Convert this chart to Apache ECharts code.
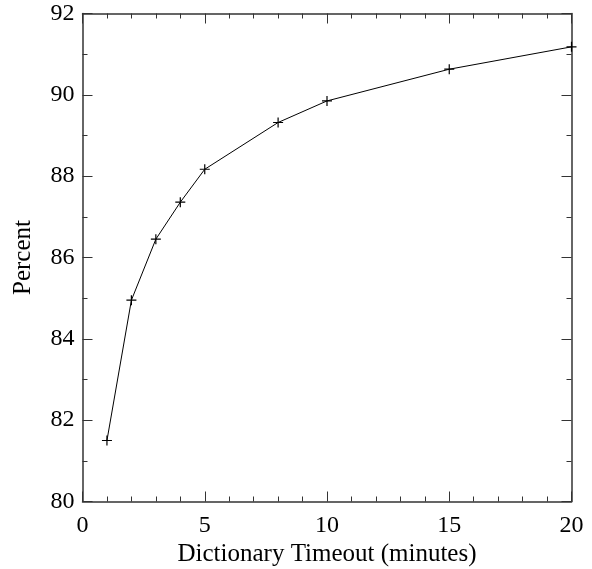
<!DOCTYPE html>
<html><head><meta charset="utf-8">
<script src="https://cdn.jsdelivr.net/npm/echarts@6/dist/echarts.min.js"></script>
<style>html,body{margin:0;padding:0;background:#fff}#c{width:592px;height:569px}</style>
</head><body><div id="c"></div>
<script>
const timeoutMinutes = [1, 2, 3, 4, 5, 8, 10, 15, 20];
const percentValues = [81.5, 84.95, 86.45, 87.36, 88.17, 89.32, 89.85, 90.63, 91.18];
const xTitle = 'Dictionary Timeout (minutes)';
const yTitle = 'Percent';

const font = 'Liberation Serif';
const axisCol = '#333';
function xa(show, pos) {
  return {
    type: 'value', min: 0, max: 20, interval: 5, position: pos,
    name: show ? xTitle : '', nameLocation: 'middle', nameGap: 36.5,
    nameTextStyle: {fontFamily: font, fontSize: 25, color: '#000'},
    axisLine: {show: true, onZero: false, lineStyle: {color: axisCol, width: 1.5}},
    axisTick: {show: true, inside: true, length: 10, lineStyle: {color: axisCol}},
    minorTick: {show: true, splitNumber: 5, length: 5, lineStyle: {color: axisCol}},
    axisLabel: {show: show, fontFamily: font, fontSize: 24, color: '#000', margin: 12},
    splitLine: {show: false}
  };
}
function ya(show, pos) {
  return {
    type: 'value', min: 80, max: 92, interval: 2, position: pos,
    name: show ? yTitle : '', nameLocation: 'middle', nameGap: 47,
    nameTextStyle: {fontFamily: font, fontSize: 25, color: '#000'},
    axisLine: {show: true, onZero: false, lineStyle: {color: axisCol, width: 1.5}},
    axisTick: {show: true, inside: true, length: 10, lineStyle: {color: axisCol}},
    minorTick: {show: true, splitNumber: 2, length: 5, lineStyle: {color: axisCol}},
    axisLabel: {show: show, fontFamily: font, fontSize: 24, color: '#000', margin: 8},
    splitLine: {show: false}
  };
}
const chart = echarts.init(document.getElementById('c'), null, {renderer: 'canvas'});
chart.setOption({
  animation: false,
  backgroundColor: '#fff',
  grid: {left: 82.5, right: 20.5, top: 13.5, bottom: 67.5, containLabel: false, outerBoundsMode: 'none'},
  xAxis: [xa(true, 'bottom'), xa(false, 'top')],
  yAxis: [ya(true, 'left'), ya(false, 'right')],
  series: [{
    type: 'line',
    data: timeoutMinutes.map((x, i) => [x, percentValues[i]]),
    xAxisIndex: 0, yAxisIndex: 0,
    lineStyle: {color: '#000', width: 1},
    symbol: 'path://M0,5L10,5M5,0L5,10',
    symbolSize: 10,
    showAllSymbol: true,
    itemStyle: {color: 'none', borderColor: '#000', borderWidth: 1.2},
    emphasis: {disabled: true}
  }]
});
</script></body></html>
